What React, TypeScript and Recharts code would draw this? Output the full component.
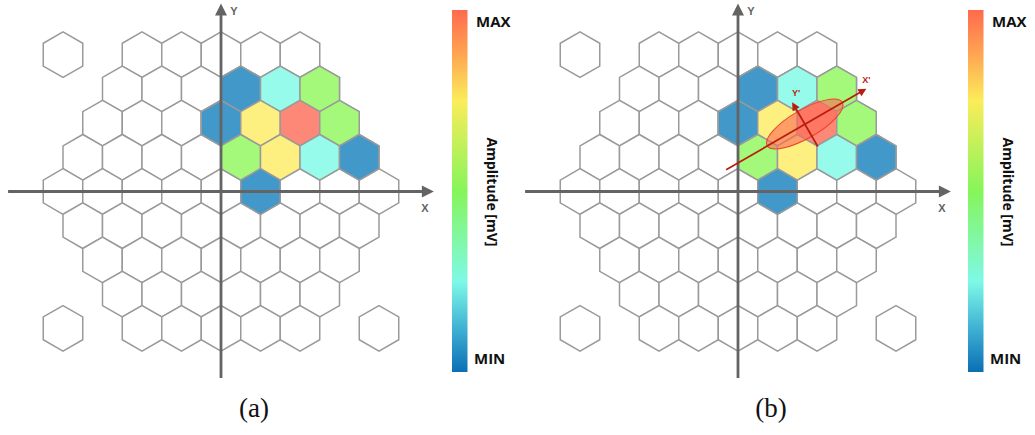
import { ScatterChart, Scatter, XAxis, YAxis, ReferenceLine } from 'recharts'

const SQRT3 = Math.sqrt(3)

// electrode rows from top to bottom: row index and number of hexagons
const rowIndex = [4, 3, 2, 1, 0, -1, -2, -3, -4]
const rowLength = [5, 6, 7, 8, 9, 8, 7, 6, 5]
// detached corner electrodes (column, row)
const cornerCols = [-4, -4, 4]
const cornerRows = [4, -4, -4]

// electrodes with a recorded amplitude: column, row, level (0 = min ... 4 = max)
const activeCols = [0.5, 1.5, 2.5, 0, 1, 2, 3, 0.5, 1.5, 2.5, 3.5, 1]
const activeRows = [3, 3, 3, 2, 2, 2, 2, 1, 1, 1, 1, 0]
const activeLevel = [0, 1, 2, 0, 3, 4, 2, 2, 3, 1, 0, 0]
const levelColors = ['#4398ca', '#96fbea', '#a5f97a', '#fdf080', '#fe8877']

// fitted ellipse (b): centre, semi axes and tilt, plus principal directions
const fitCenter = { x: 1.69, y: 1.71 }
const fitSemiAxes = [1.1, 0.36]
const fitAngle = 30
const xPrime = [{ x: -0.3, y: 0.55 }, { x: 3.25, y: 2.6 }]
const yPrime = [{ x: 2.02, y: 1.14 }, { x: 1.37, y: 2.26 }]

const colorStops = [
    { offset: 0, color: '#ff6a4d' },
    { offset: 0.12, color: '#ffa452' },
    { offset: 0.25, color: '#fbec5a' },
    { offset: 0.5, color: '#86f55a' },
    { offset: 0.75, color: '#7ef9e6' },
    { offset: 0.88, color: '#3fb1d4' },
    { offset: 1, color: '#0a6fb4' },
]

const gridCells = [
    ...rowIndex.flatMap((r, i) =>
        Array.from({ length: rowLength[i] }, (_, j) => ({
            x: j - (rowLength[i] - 1) / 2,
            y: (r * SQRT3) / 2,
        }))
    ),
    ...cornerCols.map((c, i) => ({ x: c, y: (cornerRows[i] * SQRT3) / 2 })),
]

const activeCells = activeCols.map((c, i) => ({
    x: c,
    y: (activeRows[i] * SQRT3) / 2,
    level: activeLevel[i],
}))

// chart geometry: pixels per unit (one hexagon width)
const W = 450
const H = 400
const PX = 39.5
const OX = 221
const OY = 191.5
const X_DOMAIN = [-OX / PX, (W - OX) / PX]
const Y_DOMAIN = [-(H - OY) / PX, OY / PX]
const HEX_R = PX / SQRT3

const AXIS_COLOR = '#646464'
const FIT_COLOR = '#b81d0d'

function HexShape(props: any) {
    const { cx, cy, fill } = props
    const pts = [-90, -30, 30, 90, 150, 210]
        .map((a) => {
            const t = (a * Math.PI) / 180
            return `${cx + HEX_R * Math.cos(t)},${cy + HEX_R * Math.sin(t)}`
        })
        .join(' ')
    return <polygon points={pts} fill={fill || '#fff'} stroke="#9a9a9a" strokeWidth={1.5} />
}

function Arrow(props: any) {
    const { x1, y1, x2, y2, color, width, head, label, dx, dy, fontSize } = props
    const a = Math.atan2(y2 - y1, x2 - x1)
    const c = Math.cos(a)
    const s = Math.sin(a)
    const bx = x2 - head * c
    const by = y2 - head * s
    const hw = head * 0.5
    const pts = `${x2},${y2} ${bx - hw * s},${by + hw * c} ${bx + hw * s},${by - hw * c}`
    return (
        <g>
            <line x1={x1} y1={y1} x2={bx + c} y2={by + s} stroke={color} strokeWidth={width} />
            <polygon points={pts} fill={color} />
            <text
                x={x2 + dx}
                y={y2 + dy}
                textAnchor="middle"
                fontFamily="Liberation Sans, Arial, sans-serif"
                fontWeight={700}
                fontSize={fontSize}
                fill={color}
            >
                {label}
            </text>
        </g>
    )
}

function EllipseShape(props: any) {
    const { cx, cy } = props
    return (
        <ellipse
            cx={cx}
            cy={cy}
            rx={fitSemiAxes[0] * PX}
            ry={fitSemiAxes[1] * PX}
            transform={`rotate(${-fitAngle} ${cx} ${cy})`}
            fill="#ff6a56"
            fillOpacity={0.62}
            stroke="#e8432a"
            strokeWidth={1}
        />
    )
}

function Panel({ left, fit }: { left: number; fit?: boolean }) {
    return (
        <ScatterChart
            width={W}
            height={H}
            margin={{ top: 0, right: 0, bottom: 0, left: 0 }}
            style={{ position: 'absolute', left, top: 0 }}
        >
            <XAxis type="number" dataKey="x" domain={X_DOMAIN} hide allowDataOverflow />
            <YAxis type="number" dataKey="y" domain={Y_DOMAIN} hide allowDataOverflow />
            <Scatter data={gridCells} shape={HexShape} isAnimationActive={false} />
            <Scatter
                data={activeCells}
                shape={(p: any) => <HexShape {...p} fill={levelColors[p.payload.level]} />}
                isAnimationActive={false}
            />
            <ReferenceLine
                zIndex={1000}
                segment={[{ x: -5.39, y: 0 }, { x: 5.39, y: 0 }]}
                shape={(p: any) => (
                    <Arrow {...p} color={AXIS_COLOR} width={2.8} head={12} label="X" dx={-9} dy={20} fontSize={11} />
                )}
            />
            <ReferenceLine
                zIndex={1000}
                segment={[{ x: 0, y: -4.72 }, { x: 0, y: 4.76 }]}
                shape={(p: any) => (
                    <Arrow {...p} color={AXIS_COLOR} width={2.8} head={12} label="Y" dx={13} dy={12} fontSize={11} />
                )}
            />
            {fit && (
                <Scatter data={[fitCenter]} shape={EllipseShape} isAnimationActive={false} zIndex={1100} />
            )}
            {fit && (
                <ReferenceLine
                    zIndex={1200}
                    segment={xPrime}
                    shape={(p: any) => (
                        <Arrow {...p} color={FIT_COLOR} width={1.7} head={8} label="X'" dx={0} dy={-5.5} fontSize={9} />
                    )}
                />
            )}
            {fit && (
                <ReferenceLine
                    zIndex={1200}
                    segment={yPrime}
                    shape={(p: any) => (
                        <Arrow {...p} color={FIT_COLOR} width={1.7} head={8} label="Y'" dx={4} dy={-6} fontSize={9} />
                    )}
                />
            )}
        </ScatterChart>
    )
}

function ColorBar({ left, id }: { left: number; id: string }) {
    const font = 'Open Sans, Noto Sans, sans-serif'
    return (
        <svg width={75} height={400} style={{ position: 'absolute', left, top: 0 }}>
            <defs>
                <linearGradient id={id} x1="0" y1="0" x2="0" y2="1">
                    {colorStops.map((s) => (
                        <stop key={s.offset} offset={s.offset} stopColor={s.color} />
                    ))}
                </linearGradient>
            </defs>
            <rect x={12} y={10} width={15.5} height={362} fill={`url(#${id})`} />
            <text x={36} y={27} fontFamily={font} fontWeight={700} fontSize={15} fill="#111">
                MAX
            </text>
            <text x={34} y={363.5} fontFamily={font} fontWeight={700} fontSize={15} fill="#111">
                MIN
            </text>
            <text
                transform="translate(52 192) rotate(90)"
                textAnchor="middle"
                dominantBaseline="central"
                fontFamily={font}
                fontWeight={700}
                fontSize={14}
                fill="#111"
            >
                Amplitude [mV]
            </text>
        </svg>
    )
}

const captionStyle = {
    position: 'absolute' as const,
    top: 390,
    width: 60,
    textAlign: 'center' as const,
    fontFamily: 'Liberation Serif, Times New Roman, serif',
    fontSize: 27,
    lineHeight: '36px',
    color: '#111',
}

export default function App() {
    return (
        <div style={{ position: 'absolute', left: 0, top: 0, width: 1035, height: 435, background: '#fff' }}>
            <Panel left={0} />
            <ColorBar left={440} id="ampA" />
            <Panel left={517} fit />
            <ColorBar left={956} id="ampB" />
            <div style={{ ...captionStyle, left: 224 }}>(a)</div>
            <div style={{ ...captionStyle, left: 741 }}>(b)</div>
        </div>
    )
}
